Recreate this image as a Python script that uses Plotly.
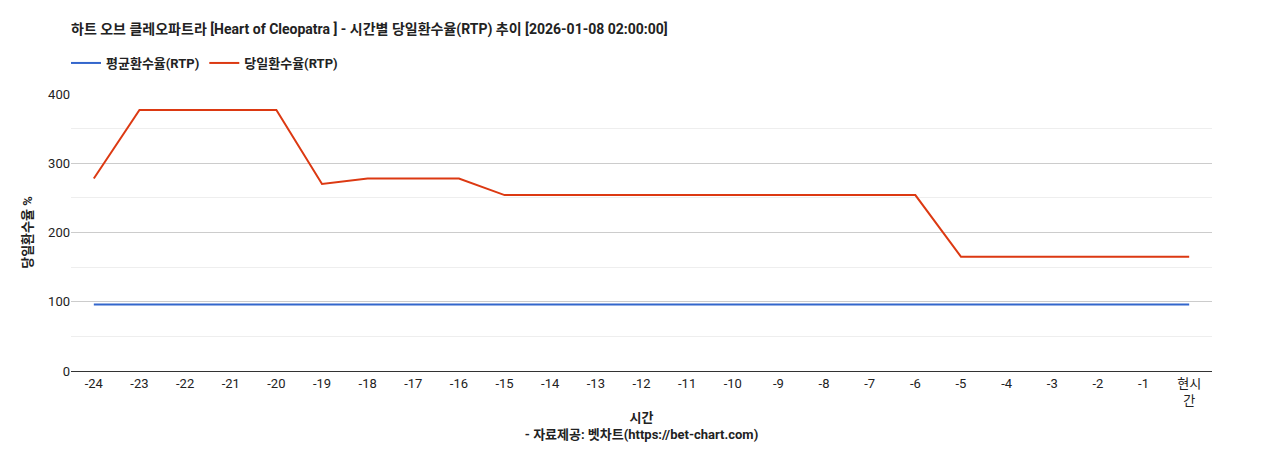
import plotly.graph_objects as go

categories = ["-24","-23","-22","-21","-20","-19","-18","-17","-16","-15","-14","-13","-12","-11","-10","-9","-8","-7","-6","-5","-4","-3","-2","-1","현시<br>간"]
avg_rtp = [96]*25
day_rtp = [278,377,377,377,377,270,278,278,278,254,254,254,254,254,254,254,254,254,254,165,165,165,165,165,165]

fig = go.Figure()
fig.add_trace(go.Scatter(x=categories, y=avg_rtp, mode="lines", name="<b>평균환수율(RTP)</b>",
                         line=dict(color="#3366cc", width=2)))
fig.add_trace(go.Scatter(x=categories, y=day_rtp, mode="lines", name="<b>당일환수율(RTP)</b>",
                         line=dict(color="#dc3912", width=2)))

fig.update_layout(
    width=1268, height=450,
    paper_bgcolor="white", plot_bgcolor="white",
    font=dict(family="Roboto, Noto Sans CJK KR, sans-serif", size=13, color="#222"),
    title=dict(text="<b>하트 오브 클레오파트라 [Heart of Cleopatra ] - 시간별 당일환수율(RTP) 추이 [2026-01-08 02:00:00]</b>",
               xref="container", x=63/1268, xanchor="left", yref="container", y=1-21/450, yanchor="middle",
               font=dict(size=14, color="#222")),
    legend=dict(orientation="h", xref="container", x=58/1268, xanchor="left",
                yref="container", y=1-55/450, yanchor="middle",
                font=dict(size=13), bgcolor="rgba(0,0,0,0)"),
    margin=dict(l=63, r=64, t=86, b=87, autoexpand=False),
    xaxis=dict(showgrid=False, showline=True, linecolor="#333", ticks="",
               range=[-0.5, 24.5],
               title=dict(text="<b>시간</b><br><b>- 자료제공: 벳차트(https://bet-chart.com)</b>", font=dict(size=13), standoff=6),
               tickfont=dict(size=13)),
    yaxis=dict(range=[0, 400], dtick=100, gridcolor="#cccccc", zeroline=False,
               minor=dict(dtick=50, showgrid=True, gridcolor="#eeeeee"),
               title=dict(text="<b>당일환수율 %</b>", font=dict(size=13), standoff=12),
               tickfont=dict(size=13)),
)
fig.write_html("out.html")
